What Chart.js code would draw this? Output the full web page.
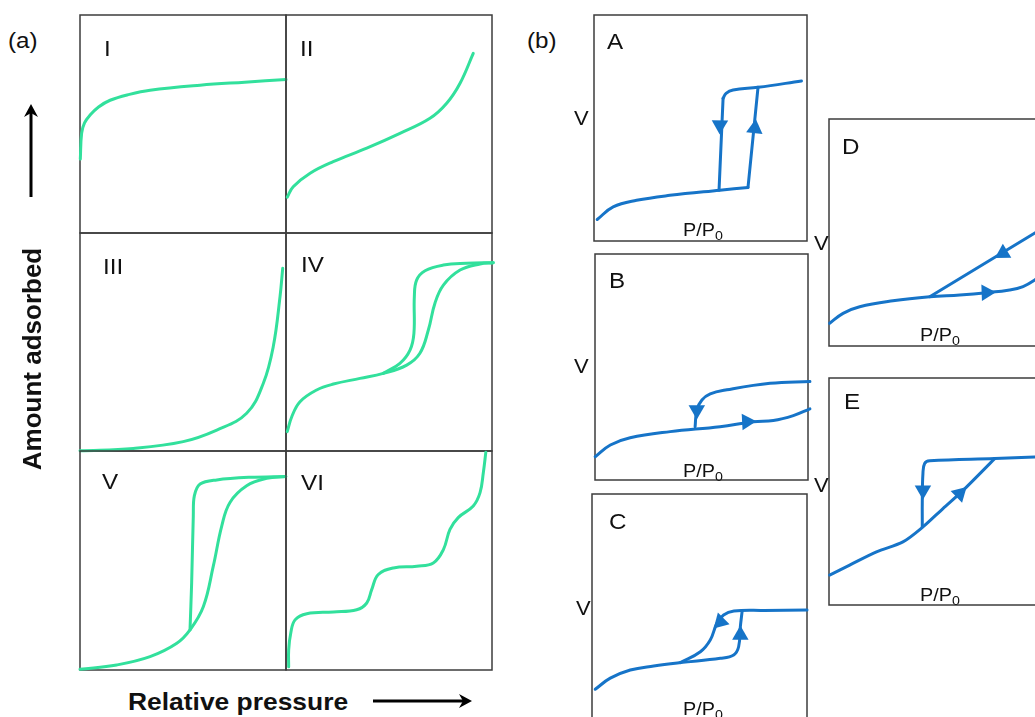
<!DOCTYPE html>
<html><head><meta charset="utf-8">
<script src="https://cdn.jsdelivr.net/npm/chart.js@4.4.1/dist/chart.umd.min.js"></script>
<style>
html,body{margin:0;padding:0;background:#fff;overflow:hidden;width:1035px;height:717px;}
body{position:relative;font-family:"Liberation Sans",Arial,sans-serif;color:#111;}
canvas{position:absolute;}
.t{position:absolute;white-space:nowrap;line-height:1;transform-origin:0 0;}
.t sub{font-size:0.72em;vertical-align:-0.3em;line-height:0;}
svg{position:absolute;left:0;top:0;}
</style></head><body>
<svg width="1035" height="717">
  <line x1="31" y1="197" x2="31" y2="110" stroke="#000" stroke-width="3"/>
  <polygon points="31,104 24,117 31,113 38,117" fill="#000"/>
  <line x1="373" y1="701" x2="465" y2="701" stroke="#000" stroke-width="3"/>
  <polygon points="472,701 459,694 463,701 459,708" fill="#000"/>
</svg>
<script>
// ---- data (normalized panel units: x = relative pressure 0..100, y = amount adsorbed 0..100) ----
const typeI    = [[0.15,33.9],[0.8,45.8],[2.2,50.5],[4.9,54.1],[9,57.8],[14.6,60.9],[24,63.6],[34,65.5],[58.3,67.8],[80,69.2],[100,70.4]];
const typeII   = [[0.6,16.4],[3.5,21.2],[11.7,27.4],[22.9,32.7],[39.2,38.9],[55.3,45.7],[69.9,52.6],[78,59.5],[84.5,68.7],[90.9,82.4]];
const typeIII  = [[0,0.1],[25.9,1.2],[50.1,4.3],[66.4,9.6],[80.9,17.3],[89,31.1],[93.8,47.8],[97.1,70.8],[98.4,83.8]];
const typeIVads= [[0.6,8.9],[2.8,15.7],[6.8,22.6],[14.9,28],[23,30.7],[35.9,33.3],[47.2,35.6],[58.6,39.4],[65,44.8],[69.1,55.5],[72.3,67.8],[76.4,76.1],[84.5,83],[94.2,85.8],[100.6,86.4]];
const typeIVdes= [[47.2,35.6],[55.3,40.2],[60.2,46.3],[62.1,54],[62.3,70.8],[63.4,78.4],[67.5,82.7],[76.4,85.3],[87.7,86.1],[100.6,86.4]];
const typeVads = [[0,0.3],[17.8,2.3],[34,6.1],[47,12.2],[53.4,18.3],[59.9,29],[64.7,47.4],[68.8,65.7],[72.8,76.5],[80.9,84.1],[90.6,87.5],[99.9,88.4]];
const typeVdes = [[53.4,18.3],[54.2,39.8],[55,70.3],[55.5,79.5],[58.3,84.9],[66.4,86.8],[82.5,88],[99.9,88.4]];
const typeVI   = [[1.3,1.5],[1.3,9.2],[2.3,16.8],[4.4,22.9],[10.1,25.7],[23,26.5],[34.3,27.5],[39.2,30.6],[41.6,36.7],[44.8,43.6],[52.1,46.6],[63.5,47.4],[71.5,48.9],[76.4,55],[79.6,64.2],[83.6,69.6],[90.9,74.9],[94.2,81],[95.8,90.2],[97,99.4]];

const hA_low  = [[1.5,9.5],[9,15.1],[20,18],[35.6,20.2],[59.1,22.5],[72.3,23.7]];
const hA_rise = [[72.3,23.7],[77,68]];
const hA_top  = [[60.6,63.1],[62,65.3],[65.3,66.8],[77,68],[97.4,70.8]];
const hA_drop = [[60.6,63.1],[58.7,22.5]];
const hA_arrows = [[59.1,51.3],[75.5,49.8]];
const hA_rot    = [181, 6];

const hB_low  = [[0.1,10.3],[7.2,15.5],[16.5,18.7],[35.3,21.4],[58.7,23.6],[74.4,25.8],[83.7,26.3],[93.1,28.5],[100.9,31.5]];
const hB_des  = [[100.9,43.6],[82.2,42.8],[61.9,39.9],[54.1,38.1],[50.2,35.4],[47.8,31],[47,23.6]];
const hB_arrows = [[71.3,25.8],[47.8,31]];
const hB_rot    = [87, 180];

const hC_ads  = [[1.5,13.6],[8.5,18.5],[17.8,22.1],[28.7,23.9],[41.1,25.4],[59.7,27.3],[65.9,28.8],[68.2,32.4],[69,41.3],[69.8,47.9]];
const hC_des  = [[100,48.7],[80,48.5],[66,48.2],[61.2,46.5],[58.1,42.8],[55,35.4],[50.4,30.2],[41.1,25.4]];
const hC_arrows = [[69,37.6],[59.7,43.5]];
const hC_rot    = [0, 225];

const hD_low  = [[0.3,10],[6.6,14.4],[14.4,17.3],[30,19.9],[47.3,21.7],[61.4,22.5],[73.9,23.5],[84.8,24.7],[91.1,26.2],[96.6,29.1],[101.3,32.6]];
const hD_des  = [[47.3,21.7],[101.3,52.4]];
const hD_arrows = [[73.9,23.5],[81.7,40.9]];
const hD_rot    = [88, 239];

const hE_ads  = [[0.3,13.2],[9.7,17.6],[22.3,23.4],[34.7,27.8],[44.1,34.4],[53.5,42.5],[62.2,49.8],[77.8,64.5]];
const hE_flat = [[77.8,64.5],[96.6,65.2],[101.3,65.4]];
const hE_des  = [[77.8,64.5],[47.3,63.5],[44.9,62.3],[44.1,57.9],[43.8,46.2],[43.8,34.4]];
const hE_arrows = [[44.1,50.6],[61.4,49.1]];
const hE_rot    = [180, 46];

// ---- styles / layout ----
const GREEN = '#32e09c', BLUE = '#1674c8', FRAME = '#3c3c3c';
const PAD = 14;

function pts(a){ return a.map(p => ({x:p[0], y:p[1]})); }
function curve(data, color, tension){
  return {data:pts(data), showLine:true, borderColor:color, borderWidth:3, pointRadius:0,
          tension:tension, clip:false, borderCapStyle:'round', borderJoinStyle:'round', fill:false};
}
function arrows(data, rots, color){
  return {data:pts(data), showLine:false, pointStyle:'triangle', pointRadius:9.5, pointRotation:rots,
          pointBackgroundColor:color, pointBorderColor:color, pointBorderWidth:0, clip:false};
}
const framePlugin = {
  id:'frame',
  beforeDatasetsDraw(c){
    const a = c.chartArea, g = c.ctx;
    g.save(); g.strokeStyle = FRAME; g.lineWidth = 1.5;
    g.strokeRect(a.left, a.top, a.right - a.left, a.bottom - a.top);
    g.restore();
  }
};
function panel(box, datasets){
  const cv = document.createElement('canvas');
  cv.width = box[2] + 2*PAD; cv.height = box[3] + 2*PAD;
  cv.style.left = (box[0] - PAD) + 'px'; cv.style.top = (box[1] - PAD) + 'px';
  document.body.appendChild(cv);
  new Chart(cv, {
    type:'scatter',
    data:{datasets},
    options:{
      responsive:false, animation:false, devicePixelRatio:1, events:[],
      layout:{padding:PAD},
      plugins:{legend:{display:false}, tooltip:{enabled:false}, title:{display:false}},
      scales:{
        x:{type:'linear', min:0, max:100, display:false},
        y:{type:'linear', min:0, max:100, display:false}
      }
    },
    plugins:[framePlugin]
  });
}

// panel (a)
panel([80, 15, 206, 218], [curve(typeI, GREEN, 0.4)]);
panel([286, 15, 206, 218], [curve(typeII, GREEN, 0.4)]);
panel([80, 233, 206, 218], [curve(typeIII, GREEN, 0.4)]);
panel([286, 233, 206, 218], [curve(typeIVads, GREEN, 0.4), curve(typeIVdes, GREEN, 0.4)]);
panel([80, 451, 206, 219], [curve(typeVads, GREEN, 0.4), curve(typeVdes, GREEN, 0.35)]);
panel([286, 451, 206, 219], [curve(typeVI, GREEN, 0.4)]);

// panel (b)
panel([594, 15, 213, 226], [curve(hA_low, BLUE, 0.4), curve(hA_rise, BLUE, 0), curve(hA_top, BLUE, 0.4), curve(hA_drop, BLUE, 0), arrows(hA_arrows, hA_rot, BLUE)]);
panel([595, 254, 213, 226], [curve(hB_low, BLUE, 0.4), curve(hB_des, BLUE, 0.4), arrows(hB_arrows, hB_rot, BLUE)]);
panel([592, 494, 215, 226], [curve(hC_ads, BLUE, 0.4), curve(hC_des, BLUE, 0.4), arrows(hC_arrows, hC_rot, BLUE)]);
panel([829, 119, 213, 227], [curve(hD_low, BLUE, 0.4), curve(hD_des, BLUE, 0), arrows(hD_arrows, hD_rot, BLUE)]);
panel([829, 378, 213, 227], [curve(hE_ads, BLUE, 0.3), curve(hE_flat, BLUE, 0), curve(hE_des, BLUE, 0.4), arrows(hE_arrows, hE_rot, BLUE)]);

// ---- text ----
function text(html, x, baseline, size, opts){
  opts = opts || {};
  const d = document.createElement('div');
  d.className = 't'; d.innerHTML = html;
  d.style.fontSize = size + 'px';
  d.style.left = x + 'px';
  d.style.top = (baseline - 0.8465*size) + 'px';
  if (opts.bold) d.style.fontWeight = 'bold';
  d.style.transform = 'scaleX(' + (opts.sx || 1.1) + ')';
  document.body.appendChild(d);
  return d;
}
text('(a)', 8, 49, 22);
text('(b)', 527, 49, 22);
text('I', 104, 57, 22);
text('II', 300, 57, 22);
text('III', 103, 275, 22);
text('IV', 301, 273, 22);
text('V', 102, 490, 22);
text('VI', 301, 491, 22);
text('A', 607, 50, 22);
text('B', 609, 289, 22);
text('C', 609, 530, 22);
text('D', 842, 155, 22);
text('E', 844, 410, 22);
[[574,125],[574,373],[576,615],[814,250],[814,492]].forEach(p => text('V', p[0], p[1], 20));
[[683,236],[683,477],[683,715],[920,341],[920,601]].forEach(p => text('P/P<sub>0</sub>', p[0], p[1], 18));
text('Relative pressure', 128, 710, 24, {bold:true, sx:1.1});
const ya = document.createElement('div');
ya.className = 't'; ya.textContent = 'Amount adsorbed';
ya.style.fontSize = '26px'; ya.style.fontWeight = 'bold';
ya.style.left = '32px'; ya.style.top = '359px';
ya.style.transformOrigin = '0 0';
ya.style.transform = 'rotate(-90deg) translate(-50%, -50%)';
document.body.appendChild(ya);
</script>
</body></html>
